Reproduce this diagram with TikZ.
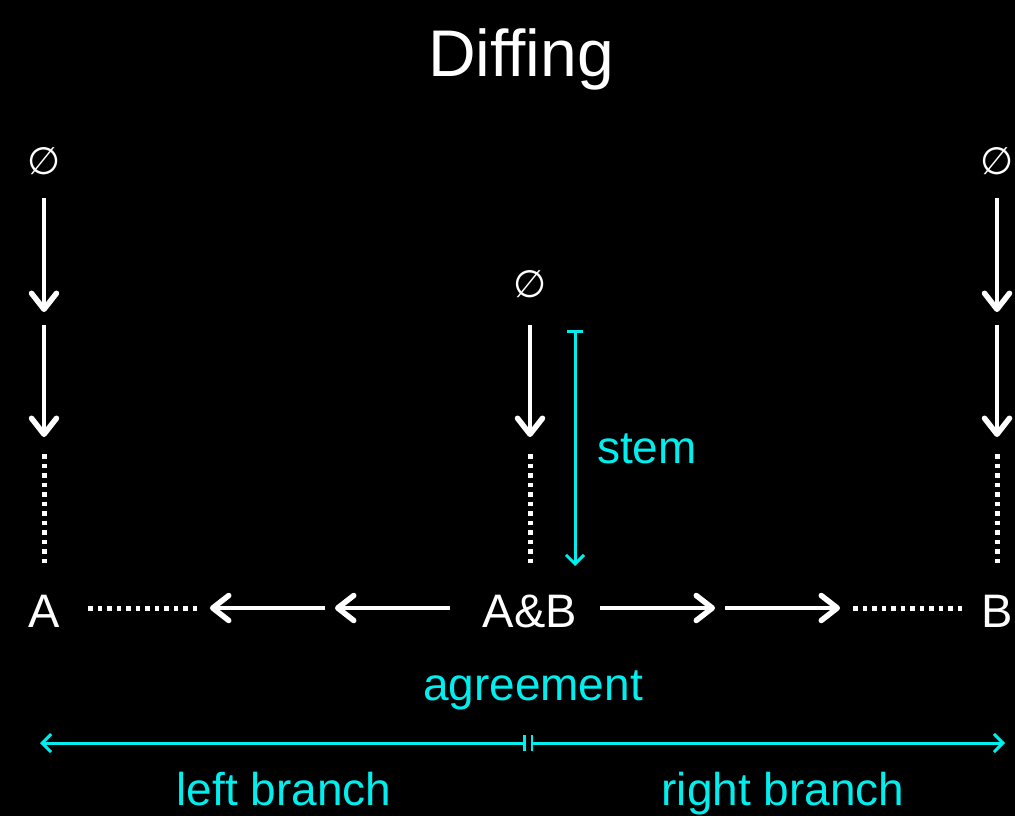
\documentclass[tikz,border=0pt]{standalone}
\usepackage{fontspec}
\setmainfont{Liberation Sans}
\newfontfamily\symfont{DejaVu Sans}
\usetikzlibrary{arrows.meta,positioning}
\definecolor{markcyan}{RGB}{0,238,238}
\tikzset{
  lbl/.style={text=white,inner sep=0pt,anchor=base,font=\fontsize{47}{50}\selectfont},
  note/.style={text=markcyan,inner sep=0pt,anchor=base,font=\fontsize{46}{50}\selectfont},
  nil/.style={text=white,inner sep=0pt,font=\symfont\fontsize{38}{40}\selectfont},
  edge/.style={draw=white,line width=4pt,-{Straight Barb[length=16pt,width=25pt,line width=5.5pt,line cap=round,line join=round]}},
  gap/.style={draw=white,line width=5pt,dash pattern=on 4.5pt off 5pt},
  span/.style={draw=markcyan,line width=3pt,{Bar[width=16pt,line width=2.5pt]}-{Straight Barb[length=9pt,width=18pt]}}
}
\begin{document}
\begin{tikzpicture}[x=1pt,y=-1pt]
	\fill[black] (0,0) rectangle (1015,816);
	\useasboundingbox (0,0) rectangle (1015,816);
	% title and end points
	\node[lbl,font=\fontsize{66}{70}\selectfont] (title) at (521,77) {Diffing};
	\node[nil] (nilA) at (44,161) {∅};
	\node[nil] (nilAB) at (530,284) {∅};
	\node[nil] (nilB) at (997,161) {∅};
	\node[lbl] (A) at (44,627) {A};
	\node[lbl] (AB) at (530,627) {A\&B};
	\node[lbl] (B) at (997,627) {B};
	% left chain
	\coordinate (a1) at (44,198); \coordinate (a2) at (44,312);
	\coordinate (a3) at (44,325); \coordinate (a4) at (44,437);
	\coordinate (a5) at (44,454); \coordinate (a6) at (44,566);
	\draw[edge] (a1) -- (a2);
	\draw[edge] (a3) -- (a4);
	\draw[gap] (a5) -- (a6);
	% right chain
	\coordinate (b1) at (997,198); \coordinate (b2) at (997,312);
	\coordinate (b3) at (997,325); \coordinate (b4) at (997,437);
	\coordinate (b5) at (997,454); \coordinate (b6) at (997,566);
	\draw[edge] (b1) -- (b2);
	\draw[edge] (b3) -- (b4);
	\draw[gap] (b5) -- (b6);
	% middle chain
	\coordinate (m1) at (530,325); \coordinate (m2) at (530,437);
	\coordinate (m3) at (530,454); \coordinate (m4) at (530,566);
	\draw[edge] (m1) -- (m2);
	\draw[gap] (m3) -- (m4);
	% branches
	\coordinate (l1) at (450,608); \coordinate (l2) at (335,608);
	\coordinate (l3) at (325,608); \coordinate (l4) at (210,608);
	\coordinate (l5) at (197,608); \coordinate (l6) at (84,608);
	\draw[edge] (l1) -- (l2);
	\draw[edge] (l3) -- (l4);
	\draw[gap] (l5) -- (l6);
	\coordinate (r1) at (600,608); \coordinate (r2) at (715,608);
	\coordinate (r3) at (725,608); \coordinate (r4) at (840,608);
	\coordinate (r5) at (853,608); \coordinate (r6) at (966,608);
	\draw[edge] (r1) -- (r2);
	\draw[edge] (r3) -- (r4);
	\draw[gap] (r5) -- (r6);
	% annotations
	\coordinate (s1) at (575,330); \coordinate (s2) at (575,566);
	\draw[span] (s1) -- (s2);
	\node[note,anchor=base west] (stem) at (597,463) {stem};
	\node[note] (agree) at (533,700) {agreement};
	\coordinate (mid) at (528,743);
	\coordinate (endL) at (40,743); \coordinate (endR) at (1005,743);
	\draw[span] ([xshift=-2.5pt]mid) -- (endL);
	\draw[span] ([xshift=2.5pt]mid) -- (endR);
	\node[note] (left) at (284,805) {left branch};
	\node[note] (right) at (783,805) {right branch};
\end{tikzpicture}
\end{document}
